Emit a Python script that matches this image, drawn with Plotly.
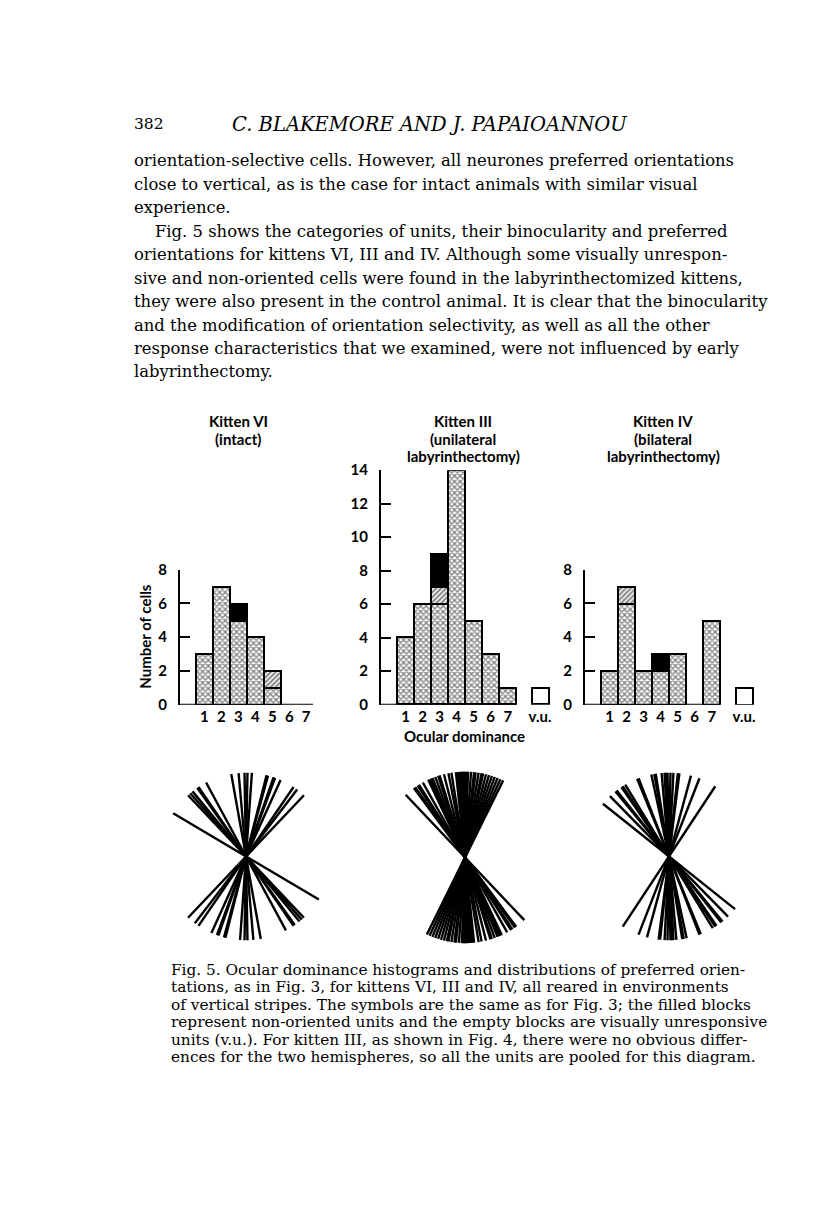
import numpy as np
import plotly.graph_objects as go

W, H = 816, 1221

# ---------------------------------------------------------------- data
od = [1, 2, 3, 4, 5, 6, 7]

# kitten VI (intact)
vi_oriented = [3, 7, 5, 4, 1, 0, 0]
vi_hatched = [0, 0, 0, 0, 1, 0, 0]
vi_nonor = [0, 0, 1, 0, 0, 0, 0]

# kitten III (unilateral labyrinthectomy)
iii_oriented = [4, 6, 6, 14, 5, 3, 1]
iii_hatched = [0, 0, 1, 0, 0, 0, 0]
iii_nonor = [0, 0, 2, 0, 0, 0, 0]
iii_vu = 1

# kitten IV (bilateral labyrinthectomy)
iv_oriented = [2, 6, 2, 2, 3, 0, 5]
iv_hatched = [0, 1, 0, 0, 0, 0, 0]
iv_nonor = [0, 0, 0, 1, 0, 0, 0]
iv_vu = 1

# preferred orientations, degrees from vertical (+ = top tilted right)
vi_angles = [-59, -43, -41, -39, -35, -34, -28, -10, -5, -1, 1, 4,
             14, 15, 19, 20, 24, 34, 37, 43]
iii_angles = [-43, -36, -35, -33, -32, -29, -25, -24, -23, -22, -20, -18,
              -17, -14, -11, -9, -6, -5, -4, -3, -2, -1, 0, 1, 2, 4, 6,
              7, 9, 11, 12, 14, 16, 18, 20, 22, 24, 26]
iv_angles = [-51, -44, -39, -38, -34, -33, -31, -22, -21, -12, -10, -9,
             -5, -3, -2, -1, 1, 3, 6, 7, 15, 21, 33]

header_num = "382"
header_authors = "C. BLAKEMORE AND J. PAPAIOANNOU"

para1 = [
    "orientation-selective cells. However, all neurones preferred orientations",
    "close to vertical, as is the case for intact animals with similar visual",
    "experience.",
]
para2 = [
    "Fig. 5 shows the categories of units, their binocularity and preferred",
    "orientations for kittens VI, III and IV. Although some visually unrespon-",
    "sive and non-oriented cells were found in the labyrinthectomized kittens,",
    "they were also present in the control animal. It is clear that the binocularity",
    "and the modification of orientation selectivity, as well as all the other",
    "response characteristics that we examined, were not influenced by early",
    "labyrinthectomy.",
]
caption = [
    "Fig. 5. Ocular dominance histograms and distributions of preferred orien-",
    "tations, as in Fig. 3, for kittens VI, III and IV, all reared in environments",
    "of vertical stripes. The symbols are the same as for Fig. 3; the filled blocks",
    "represent non-oriented units and the empty blocks are visually unresponsive",
    "units (v.u.). For kitten III, as shown in Fig. 4, there were no obvious differ-",
    "ences for the two hemispheres, so all the units are pooled for this diagram.",
]

titles = [["Kitten VI", "(intact)"],
          ["Kitten III", "(unilateral", "labyrinthectomy)"],
          ["Kitten IV", "(bilateral", "labyrinthectomy)"]]


# ---------------------------------------------------------------- helpers
def xd(a, b):
    return [a / W, b / W]


def yd(top, bottom):
    return [1 - bottom / H, 1 - top / H]


def nz(v):
    return [x if x else None for x in v]


SANS = "Lato"
SERIF = "DejaVu Serif"
black = "black"

cross = dict(shape="x", size=4, solidity=0.55, fgcolor=black, bgcolor="white")
hatch = dict(shape="/", size=3.5, solidity=0.55, fgcolor=black, bgcolor="white")
outline = dict(color=black, width=2)

fig = go.Figure()

hists = [
    ("x", "y", vi_oriented, vi_hatched, vi_nonor, None, 7.4),
    ("x2", "y2", iii_oriented, iii_hatched, iii_nonor, iii_vu, 7.5),
    ("x3", "y3", iv_oriented, iv_hatched, iv_nonor, iv_vu, 7.5),
]
vu_pos = 8.9
for xa, ya, ori, hat, non, vu, xend in hists:
    fig.add_trace(go.Bar(x=od, y=nz(ori), xaxis=xa, yaxis=ya, width=1,
                         marker=dict(color="white", line=outline, pattern=cross)))
    fig.add_trace(go.Bar(x=od, y=nz(hat), xaxis=xa, yaxis=ya, width=1,
                         marker=dict(color="white", line=outline, pattern=hatch)))
    fig.add_trace(go.Bar(x=od, y=nz(non), xaxis=xa, yaxis=ya, width=1,
                         marker=dict(color=black, line=outline)))
    if vu:
        fig.add_trace(go.Bar(x=[vu_pos], y=[vu], xaxis=xa, yaxis=ya, width=1,
                             marker=dict(color="white", line=outline)))
    # baseline of the histogram
    fig.add_shape(type="line", xref=xa, yref=ya, x0=-0.44, x1=xend, y0=0, y1=0,
                  line=dict(color=black, width=2))

# rose diagrams
roses = [("x4", "y4", vi_angles), ("x5", "y5", iii_angles), ("x6", "y6", iv_angles)]
for xa, ya, ang in roses:
    t = np.radians(ang)
    xs, ys = [], []
    for s, c in zip(np.sin(t), np.cos(t)):
        xs += [s, -s, None]
        ys += [c, -c, None]
    fig.add_trace(go.Scatter(x=xs, y=ys, xaxis=xa, yaxis=ya, mode="lines",
                             line=dict(color=black, width=2.4), hoverinfo="skip"))

tickfont = dict(family=SANS, size=15, color=black, weight=700)

ax_common = dict(showgrid=False, zeroline=False, fixedrange=True)
xlab = dict(tickvals=od, ticktext=[str(v) for v in od], ticks="", showline=False,
            tickfont=tickfont, ticklabelstandoff=1)
ylab = dict(showline=True, linecolor=black, linewidth=2, ticks="inside",
            ticklen=10, tickwidth=2, tickcolor=black, tickfont=tickfont,
            ticklabelstandoff=8)
vu_ticks = {"tickvals": od + [vu_pos], "ticktext": [str(v) for v in od] + ["v.u."]}

layout = dict(
    width=W, height=H, margin=dict(l=0, r=0, t=0, b=0),
    paper_bgcolor="white", plot_bgcolor="white", showlegend=False,
    barmode="stack", bargap=0,
    xaxis=dict(domain=xd(172, 305), range=[-0.44, 7.4], anchor="y", **xlab, **ax_common),
    yaxis=dict(domain=yd(560, 697), range=[0, 8], anchor="x", tickvals=[0, 2, 4, 6, 8],
               **ylab, **ax_common),
    xaxis2=dict(domain=xd(373, 544), range=[-0.44, 9.6], anchor="y2", **ax_common,
                **{**xlab, **vu_ticks}),
    yaxis2=dict(domain=yd(459, 697), range=[0, 14], anchor="x2",
                tickvals=[0, 2, 4, 6, 8, 10, 12, 14], **ylab, **ax_common),
    xaxis3=dict(domain=xd(577, 748), range=[-0.44, 9.6], anchor="y3", **ax_common,
                **{**xlab, **vu_ticks}),
    yaxis3=dict(domain=yd(560, 697), range=[0, 8], anchor="x3", tickvals=[0, 2, 4, 6, 8],
                **ylab, **ax_common),
)
# rose panels: square boxes, unit radius
rose_geo = [(238, 851, 85), (457, 852, 87), (661, 851, 85)]
for i, (cx, cy, r) in enumerate(rose_geo, start=4):
    half = 1.05 * r
    layout[f"xaxis{i}"] = dict(domain=xd(cx - half, cx + half), range=[-1.05, 1.05],
                               visible=False, anchor=f"y{i}", **ax_common)
    layout[f"yaxis{i}"] = dict(domain=yd(cy - half, cy + half), range=[-1.05, 1.05],
                               visible=False, anchor=f"x{i}", **ax_common)
fig.update_layout(**layout)


def note(text, px, py, size, family=SERIF, anchor="left", weight=400, angle=0):
    fig.add_annotation(text=text, x=px / W, y=1 - py / H, xref="paper", yref="paper",
                       xanchor=anchor, yanchor="middle", showarrow=False,
                       textangle=angle,
                       font=dict(family=family, size=size, color=black, weight=weight))


# page text
note(header_num, 124, 108, 15.5)
note("<i>" + header_authors + "</i>", 222, 108, 19.5)

body_x, body_y0, body_dy = 124, 145, 23.8
lines = [(l, 0) for l in para1] + [(l, 1 if i == 0 else 0) for i, l in enumerate(para2)]
for k, (txt, indent) in enumerate(lines):
    note(txt, body_x + 21 * indent, body_y0 + k * body_dy, 16.4)

for k, txt in enumerate(caption):
    note(txt, 161, 966 + k * 17.8, 15.3)

# panel titles
title_x = [230, 455, 655]
for cx, tl in zip(title_x, titles):
    for j, t in enumerate(tl):
        note(t, cx, 409 + j * 18, 15, family=SANS, anchor="center", weight=700)

note("Number of cells", 137, 628, 15, family=SANS, anchor="center", weight=700, angle=-90)
note("Ocular dominance", 456, 729, 15, family=SANS, anchor="center", weight=700)

fig.write_html("out.html")
